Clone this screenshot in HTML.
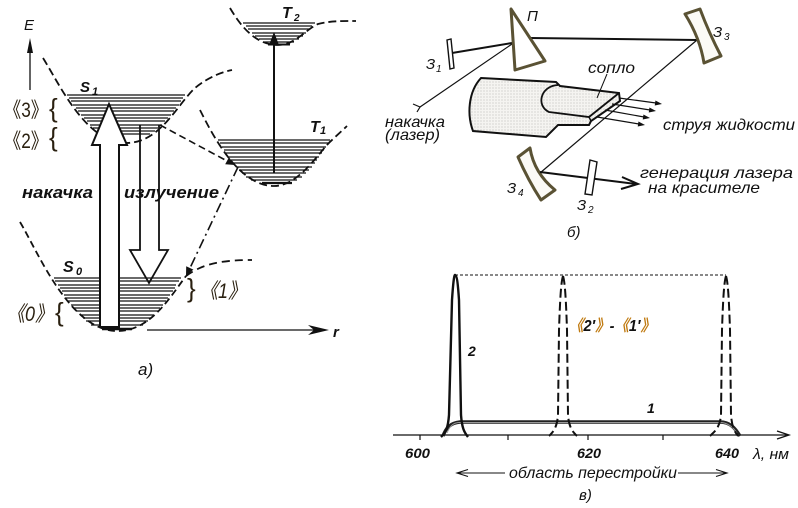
<!DOCTYPE html>
<html>
<head>
<meta charset="utf-8">
<style>
  html, body { margin:0; padding:0; background:#fff; }
  svg { display:block; }
  text { font-family: "Liberation Sans", "Noto Sans CJK JP", sans-serif; fill:#111; }
  .bi { font-weight:bold; font-style:italic; }
  .it { font-style:italic; }
  .lbl { fill:#2a2010; }
</style>
</head>
<body>
<svg width="798" height="508" viewBox="0 0 798 508" xmlns="http://www.w3.org/2000/svg">
  <defs>
    <pattern id="st" width="3" height="3" patternUnits="userSpaceOnUse">
      <rect width="3" height="3" fill="#f5f4f1"/>
      <circle cx="1" cy="1" r="0.5" fill="#a5a59f"/>
    </pattern>
  </defs>
  <rect width="798" height="508" fill="#fff"/>

  <!-- ================= SECTION A ================= -->
  <line x1="30" y1="90" x2="30" y2="48" stroke="#111" stroke-width="1.3"/>
  <polygon points="30,38 27,53 33,53" fill="#111"/>
  <text x="24" y="30" font-size="15" class="it">E</text>

  <!-- emission arrow -->
  <polyline points="140,125 140,250 130,250 149,283 168,250 159,250 159,125" fill="#fff" stroke="#111" stroke-width="1.8"/>

  <!-- S1 curve -->
  <path d="M43,58 C60,85 86,143 126,143 C160,143 176,106 195,88 C206,79 218,73 232,70" fill="none" stroke="#111" stroke-width="1.8" stroke-dasharray="8,4"/>
  <g stroke="#111" stroke-width="1.2">
    <line x1="67" y1="95" x2="185" y2="95"/>
    <line x1="69" y1="98" x2="183" y2="98"/>
    <line x1="71" y1="101" x2="181" y2="101"/>
    <line x1="73" y1="105" x2="179" y2="105"/>
    <line x1="76" y1="108" x2="176" y2="108"/>
    <line x1="78" y1="111" x2="174" y2="111"/>
    <line x1="81" y1="115" x2="171" y2="115"/>
    <line x1="84" y1="118" x2="168" y2="118"/>
    <line x1="87" y1="121" x2="165" y2="121"/>
    <line x1="90" y1="125" x2="162" y2="125"/>
    <line x1="93" y1="128" x2="158" y2="128"/>
    <line x1="97" y1="131" x2="155" y2="131"/>
    <line x1="102" y1="134" x2="150" y2="134"/>
  </g>
  <text x="80" y="92" font-size="15" class="bi">S</text>
  <text x="92" y="95" font-size="11" class="bi">1</text>

  <!-- S0 curve -->
  <path d="M20,222 C38,252 70,331 117,331 C150,331 168,300 186,276" fill="none" stroke="#111" stroke-width="1.8" stroke-dasharray="7,4"/>
  <path d="M186,276 C200,266 215,260 252,260" fill="none" stroke="#111" stroke-width="1.8" stroke-dasharray="8,5"/>
  <g stroke="#111" stroke-width="1.2">
    <line x1="54" y1="278" x2="181" y2="278"/>
    <line x1="55" y1="281" x2="179" y2="281"/>
    <line x1="58" y1="285" x2="176" y2="285"/>
    <line x1="60" y1="288" x2="175" y2="288"/>
    <line x1="62" y1="291" x2="173" y2="291"/>
    <line x1="64" y1="295" x2="170" y2="295"/>
    <line x1="66" y1="298" x2="168" y2="298"/>
    <line x1="68" y1="301" x2="166" y2="301"/>
    <line x1="71" y1="305" x2="163" y2="305"/>
    <line x1="74" y1="308" x2="160" y2="308"/>
    <line x1="76" y1="311" x2="158" y2="311"/>
    <line x1="80" y1="315" x2="154" y2="315"/>
    <line x1="83" y1="318" x2="151" y2="318"/>
    <line x1="86" y1="321" x2="148" y2="321"/>
    <line x1="91" y1="325" x2="143" y2="325"/>
  </g>
  <line x1="102" y1="329" x2="132" y2="329" stroke="#111" stroke-width="2.5"/>
  <text x="63" y="272" font-size="16" class="bi">S</text>
  <text x="76" y="275" font-size="11" class="bi">0</text>

  <!-- pump arrow -->
  <polygon points="100,327 100,145 92,145 109,104 127,145 119,145 119,327" fill="#fff" stroke="#111" stroke-width="2"/>

  <!-- r axis -->
  <line x1="147" y1="330" x2="318" y2="330" stroke="#111" stroke-width="1.3"/>
  <polygon points="308,325 329,330 308,335 314,330" fill="#111"/>
  <text x="333" y="337" font-size="15" class="bi">r</text>

  <!-- T2 -->
  <path d="M230,8 C240,25 255,45 278,45 C295,45 305,30 318,24 C330,21 340,21 356,21" fill="none" stroke="#111" stroke-width="1.8" stroke-dasharray="8,4"/>
  <g stroke="#111" stroke-width="1.2">
    <line x1="243" y1="23" x2="315" y2="23"/>
    <line x1="246" y1="26" x2="312" y2="26"/>
    <line x1="248" y1="29" x2="310" y2="29"/>
    <line x1="252" y1="33" x2="306" y2="33"/>
    <line x1="255" y1="36" x2="303" y2="36"/>
    <line x1="259" y1="39" x2="299" y2="39"/>
    <line x1="264" y1="42" x2="294" y2="42"/>
  </g>
  <line x1="268" y1="44.5" x2="290" y2="44.5" stroke="#111" stroke-width="2"/>
  <text x="282" y="18" font-size="16" class="bi">T</text>
  <text x="294" y="21" font-size="10" class="bi">2</text>

  <!-- T1 -->
  <path d="M200,110 C215,140 240,186 274,186 C300,186 320,150 332,140 L347,126" fill="none" stroke="#111" stroke-width="1.8" stroke-dasharray="8,4"/>
  <g stroke="#111" stroke-width="1.2">
    <line x1="218" y1="140" x2="330" y2="140"/>
    <line x1="220" y1="143" x2="328" y2="143"/>
    <line x1="222" y1="147" x2="326" y2="147"/>
    <line x1="224" y1="150" x2="324" y2="150"/>
    <line x1="226" y1="153" x2="322" y2="153"/>
    <line x1="229" y1="157" x2="319" y2="157"/>
    <line x1="231" y1="160" x2="317" y2="160"/>
    <line x1="233" y1="163" x2="315" y2="163"/>
    <line x1="236" y1="167" x2="312" y2="167"/>
    <line x1="239" y1="170" x2="309" y2="170"/>
    <line x1="242" y1="173" x2="306" y2="173"/>
    <line x1="246" y1="177" x2="302" y2="177"/>
    <line x1="251" y1="180" x2="297" y2="180"/>
  </g>
  <line x1="262" y1="183" x2="292" y2="183" stroke="#111" stroke-width="2.2"/>
  <text x="310" y="132" font-size="16" class="bi">T</text>
  <text x="320" y="134" font-size="11" class="bi">1</text>

  <line x1="274" y1="173" x2="274" y2="42" stroke="#111" stroke-width="2"/>
  <polygon points="274,32 269,45 279,45" fill="#111"/>

  <line x1="160" y1="125" x2="229" y2="162" stroke="#111" stroke-width="1.6" stroke-dasharray="7,4"/>
  <polygon points="235,165 225.2,164.3 229,157.3" fill="#111"/>
  <line x1="238" y1="167" x2="190" y2="268" stroke="#111" stroke-width="1.6" stroke-dasharray="10,4,2,4"/>
  <polygon points="186,276 193.4,269.6 186.2,266.2" fill="#111"/>

  <text x="22" y="198" font-size="17" class="bi" textLength="71" lengthAdjust="spacingAndGlyphs">накачка</text>
  <text x="124" y="198" font-size="17" class="bi" textLength="95" lengthAdjust="spacingAndGlyphs">излучение</text>

  <text x="4" y="117" font-size="21" class="lbl" textLength="44" lengthAdjust="spacingAndGlyphs">《3》</text>
  <text x="49" y="117" font-size="26" class="lbl">{</text>
  <text x="4" y="148" font-size="21" class="lbl" textLength="44" lengthAdjust="spacingAndGlyphs">《2》</text>
  <text x="49" y="146" font-size="26" class="lbl">{</text>
  <text x="7" y="321" font-size="21" class="lbl it" textLength="46" lengthAdjust="spacingAndGlyphs">《0》</text>
  <text x="55" y="321" font-size="26" class="lbl">{</text>
  <text x="187" y="297" font-size="26" class="lbl">}</text>
  <text x="200" y="298" font-size="21" class="lbl it" textLength="46" lengthAdjust="spacingAndGlyphs">《1》</text>

  <text x="138" y="375" font-size="17" class="it">а)</text>

  <!-- ================= SECTION B ================= -->
  <line x1="530" y1="38" x2="697" y2="40" stroke="#111" stroke-width="2"/>
  <line x1="452" y1="53" x2="512" y2="43" stroke="#111" stroke-width="2"/>
  <line x1="420" y1="107" x2="512" y2="44" stroke="#111" stroke-width="1.2"/>
  <polyline points="413,104 420,107 417,112" fill="none" stroke="#111" stroke-width="1.2"/>

  <path d="M481,78 L556,82 L560,86 L619,93 L620,101 L591,121 L589,125 L558,125 L546,137 L473,131 C467,115 468,92 481,78 Z" fill="url(#st)" stroke="#111" stroke-width="2"/>
  <path d="M558,85 C540,86 536,106 549,112 L589,117 L619,93" fill="none" stroke="#111" stroke-width="1.8"/>
  <line x1="589" y1="117" x2="591" y2="121" stroke="#111" stroke-width="1.5"/>
  <line x1="607" y1="74" x2="597" y2="98" stroke="#111" stroke-width="1"/>

  <line x1="697" y1="40" x2="540" y2="173" stroke="#111" stroke-width="1.2"/>

  <g stroke="#111" stroke-width="1.2">
    <line x1="619" y1="98" x2="656" y2="103"/>
    <line x1="612" y1="104" x2="650" y2="110"/>
    <line x1="605" y1="110" x2="644" y2="117"/>
    <line x1="597" y1="117" x2="639" y2="124"/>
  </g>
  <g fill="#111">
    <polygon points="662,104 654.75,105.5 655.45,100.5"/>
    <polygon points="656,111 648.75,112.5 649.45,107.5"/>
    <polygon points="650,118 642.75,119.5 643.45,114.5"/>
    <polygon points="645,125 637.75,126.5 638.45,121.5"/>
  </g>

  <polygon points="511,9 515,70 545,61" fill="#fff" stroke="#5a5234" stroke-width="3" stroke-linejoin="round"/>
  <text x="527" y="21" font-size="15" class="it">П</text>

  <polygon points="447,40 451,39 454,68 450,69" fill="#fff" stroke="#111" stroke-width="1.4"/>
  <text x="426" y="69" font-size="15" class="it">З</text>
  <text x="436" y="72" font-size="10" class="it">1</text>

  <path d="M685,14 L700,9 Q709,33 721,56 L704,63 Q700,38 685,14 Z" fill="#fbfaf6" stroke="#5a5234" stroke-width="3" stroke-linejoin="round"/>
  <text x="713" y="37" font-size="15" class="it">З</text>
  <text x="724" y="40" font-size="10" class="it">3</text>

  <path d="M518,157 L530,148 Q534,173 555,190 L541,200 Q528,180 518,157 Z" fill="#fbfaf6" stroke="#5a5234" stroke-width="3" stroke-linejoin="round"/>
  <text x="507" y="193" font-size="15" class="it">З</text>
  <text x="518" y="196" font-size="10" class="it">4</text>

  <line x1="540" y1="172" x2="636" y2="184" stroke="#111" stroke-width="2"/>
  <polyline points="622,177 638,184 621,189" fill="none" stroke="#111" stroke-width="2"/>
  <polygon points="590,160 597,162 592,195 585,194" fill="#fff" stroke="#111" stroke-width="1.4"/>
  <text x="577" y="210" font-size="15" class="it">З</text>
  <text x="588" y="213" font-size="10" class="it">2</text>

  <text x="588" y="73" font-size="16" class="it" textLength="47" lengthAdjust="spacingAndGlyphs">сопло</text>
  <text x="385" y="127" font-size="16" class="it" textLength="60" lengthAdjust="spacingAndGlyphs">накачка</text>
  <text x="385" y="140" font-size="16" class="it" textLength="55" lengthAdjust="spacingAndGlyphs">(лазер)</text>
  <text x="663" y="130" font-size="16" class="it" textLength="132" lengthAdjust="spacingAndGlyphs">струя жидкости</text>
  <text x="640" y="178" font-size="16" class="it" textLength="153" lengthAdjust="spacingAndGlyphs">генерация лазера</text>
  <text x="648" y="193" font-size="16" class="it" textLength="112" lengthAdjust="spacingAndGlyphs">на красителе</text>
  <text x="567" y="237" font-size="15" class="it">б)</text>

  <!-- ================= SECTION C ================= -->
  <line x1="393" y1="435" x2="788" y2="435" stroke="#111" stroke-width="1.3"/>
  <polyline points="777,431 789,435 777,439" fill="none" stroke="#111" stroke-width="1.3"/>
  <g stroke="#111" stroke-width="1.2">
    <line x1="420" y1="435" x2="420" y2="440"/>
    <line x1="508" y1="435" x2="508" y2="440"/>
    <line x1="588" y1="435" x2="588" y2="440"/>
    <line x1="663" y1="435" x2="663" y2="440"/>
  </g>
  <text x="405" y="458" font-size="14" class="bi" textLength="25" lengthAdjust="spacingAndGlyphs">600</text>
  <text x="577" y="458" font-size="14" class="bi" textLength="24" lengthAdjust="spacingAndGlyphs">620</text>
  <text x="715" y="458" font-size="14" class="bi" textLength="24" lengthAdjust="spacingAndGlyphs">640</text>
  <text x="753" y="459" font-size="15" class="it" textLength="36" lengthAdjust="spacingAndGlyphs">λ, нм</text>

  <line x1="455" y1="275" x2="726" y2="275" stroke="#111" stroke-width="1" stroke-dasharray="3,2"/>

  <path d="M443,436 C446,428 450,423 460,422 L720,422 C730,422 735,428 740,436" fill="none" stroke="#222" stroke-width="3.4"/>
  <path d="M447,433 C450,426 453,422.5 460,422.5 L720,422.5 C728,422.5 733,427 737,433" fill="none" stroke="#999" stroke-width="0.9"/>

  <path d="M441,437 C446,432 448,428 449,415 L452,300 C453,285 454,275 455,275 C457,275 458,285 459,300 L461,415 C462,428 464,432 468,437" fill="none" stroke="#111" stroke-width="2.4"/>

  <g fill="none" stroke="#111" stroke-width="2" stroke-dasharray="9,4">
    <path d="M563,276 C561,282 560,300 559,330 L558,415 C557,428 553,432 549,436"/>
    <path d="M563,276 C565,282 566,300 567,330 L568,415 C569,428 573,432 577,436"/>
    <path d="M726,276 C724,282 723,300 722,330 L721,415 C720,428 714,432 710,436"/>
    <path d="M726,276 C728,282 729,300 730,330 L731,415 C732,428 735,432 738,436"/>
  </g>

  <text x="468" y="356" font-size="14" class="bi">2</text>
  <text x="647" y="413" font-size="14" class="bi">1</text>
  <text x="569" y="331" font-size="16" class="bi" textLength="86" lengthAdjust="spacingAndGlyphs"><tspan fill="#c07a10">《</tspan>2′<tspan fill="#c07a10">》</tspan>-<tspan fill="#c07a10">《</tspan>1′<tspan fill="#c07a10">》</tspan></text>

  <line x1="458" y1="473" x2="505" y2="473" stroke="#111" stroke-width="1"/>
  <polyline points="468,469.5 457,473 468,476.5" fill="none" stroke="#111" stroke-width="1.1"/>
  <line x1="678" y1="473" x2="726" y2="473" stroke="#111" stroke-width="1"/>
  <polyline points="716,469.5 727,473 716,476.5" fill="none" stroke="#111" stroke-width="1.1"/>
  <text x="509" y="478" font-size="16" class="it" textLength="168" lengthAdjust="spacingAndGlyphs">область перестройки</text>
  <text x="579" y="500" font-size="15" class="it">в)</text>
</svg>
</body>
</html>
